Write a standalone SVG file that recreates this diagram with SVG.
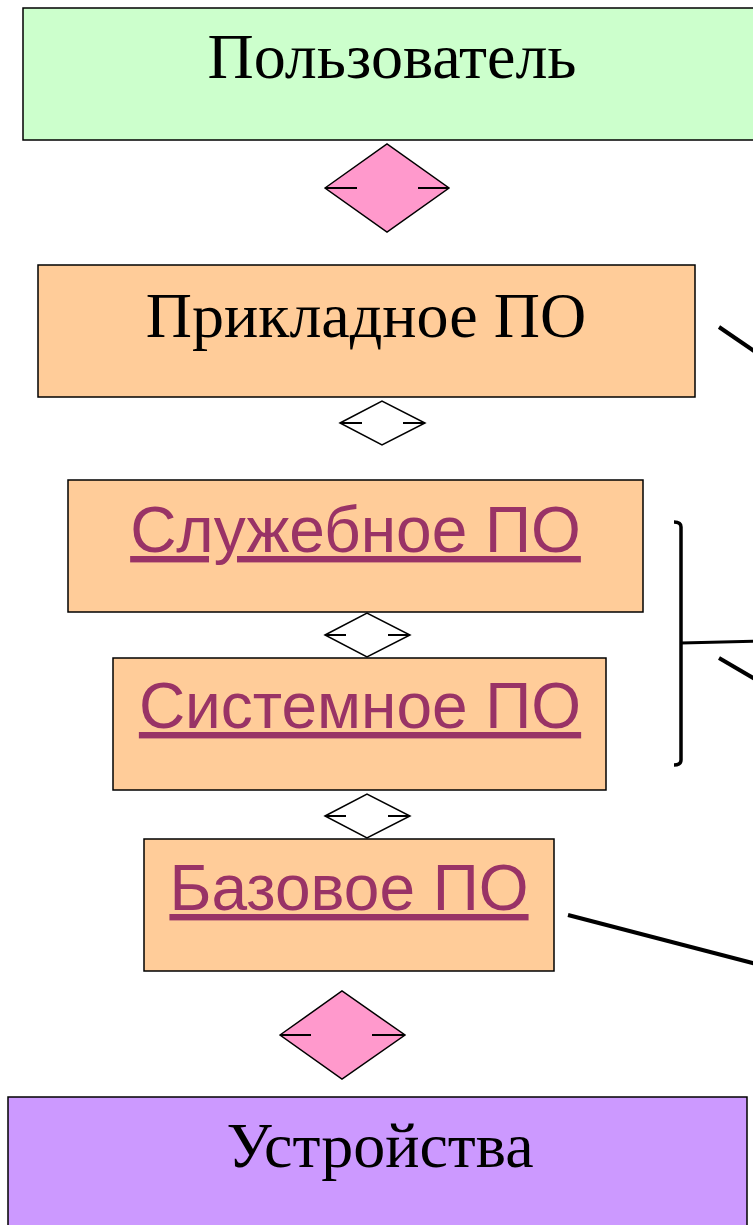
<svg xmlns="http://www.w3.org/2000/svg" width="753" height="1225" viewBox="0 0 753 1225">
<style>
.box{stroke:#000;stroke-width:1.5}
.serif{font-family:"Liberation Serif","Times New Roman",serif;font-size:64px;fill:#000;text-anchor:middle}
.link{font-family:"Liberation Sans",Arial,sans-serif;font-size:64px;fill:#993366;text-anchor:middle;text-decoration:underline}
.dia{stroke:#000;stroke-width:1.5}
.tick{stroke:#000;stroke-width:2}
.conn{stroke:#000;stroke-width:4;fill:none}
</style>
<rect width="753" height="1225" fill="#fff"/>
<g id="node-user"><rect class="box" x="23" y="8" width="740" height="132" fill="#CCFFCC"/><text class="serif" x="392" y="78">Пользователь</text></g>
<g id="node-app"><rect class="box" x="38" y="265" width="657" height="132" fill="#FFCC99"/><text class="serif" x="366" y="337">Прикладное ПО</text></g>
<g id="node-service"><rect class="box" x="68" y="480" width="575" height="132" fill="#FFCC99"/><text class="link" x="355.5" y="552">Служебное ПО</text></g>
<g id="node-system"><rect class="box" x="113" y="658" width="493" height="132" fill="#FFCC99"/><text class="link" x="360" y="728">Системное ПО</text></g>
<g id="node-base"><rect class="box" x="144" y="839" width="410" height="132" fill="#FFCC99"/><text class="link" x="349" y="910">Базовое ПО</text></g>
<g id="node-devices"><rect class="box" x="8" y="1097" width="739" height="140" fill="#CC99FF"/><text class="serif" x="380" y="1167">Устройства</text></g>
<g id="connectors">
<g id="d1"><polygon class="dia" points="325,188 387,144 449,188 387,232" fill="#FF99CC"/><line class="tick" x1="325" y1="188" x2="357" y2="188"/><line class="tick" x1="418" y1="188" x2="449" y2="188"/></g>
<g id="d2"><polygon class="dia" points="340,423 382,401 425,423 382,445" fill="#fff"/><line class="tick" x1="340" y1="423" x2="362" y2="423"/><line class="tick" x1="403" y1="423" x2="425" y2="423"/></g>
<g id="d3"><polygon class="dia" points="325,635 367,613 410,635 367,657" fill="#fff"/><line class="tick" x1="325" y1="635" x2="346" y2="635"/><line class="tick" x1="388" y1="635" x2="410" y2="635"/></g>
<g id="d4"><polygon class="dia" points="325,816 367,794 410,816 367,838" fill="#fff"/><line class="tick" x1="325" y1="816" x2="346" y2="816"/><line class="tick" x1="388" y1="816" x2="410" y2="816"/></g>
<g id="d5"><polygon class="dia" points="280,1035 342,991 405,1035 342,1079" fill="#FF99CC"/><line class="tick" x1="280" y1="1035" x2="311" y2="1035"/><line class="tick" x1="372" y1="1035" x2="405" y2="1035"/></g>
<line class="conn" x1="719" y1="327" x2="760" y2="355"/>
<path d="M674,522 Q681,522 681,527 L681,760 Q681,765 674,765" stroke="#000" stroke-width="3.5" fill="none"/>
<line x1="681" y1="643" x2="760" y2="641" stroke="#000" stroke-width="3"/>
<line class="conn" x1="719" y1="658" x2="760" y2="682"/>
<line class="conn" x1="568" y1="915" x2="760" y2="965"/>
</g>
</svg>
